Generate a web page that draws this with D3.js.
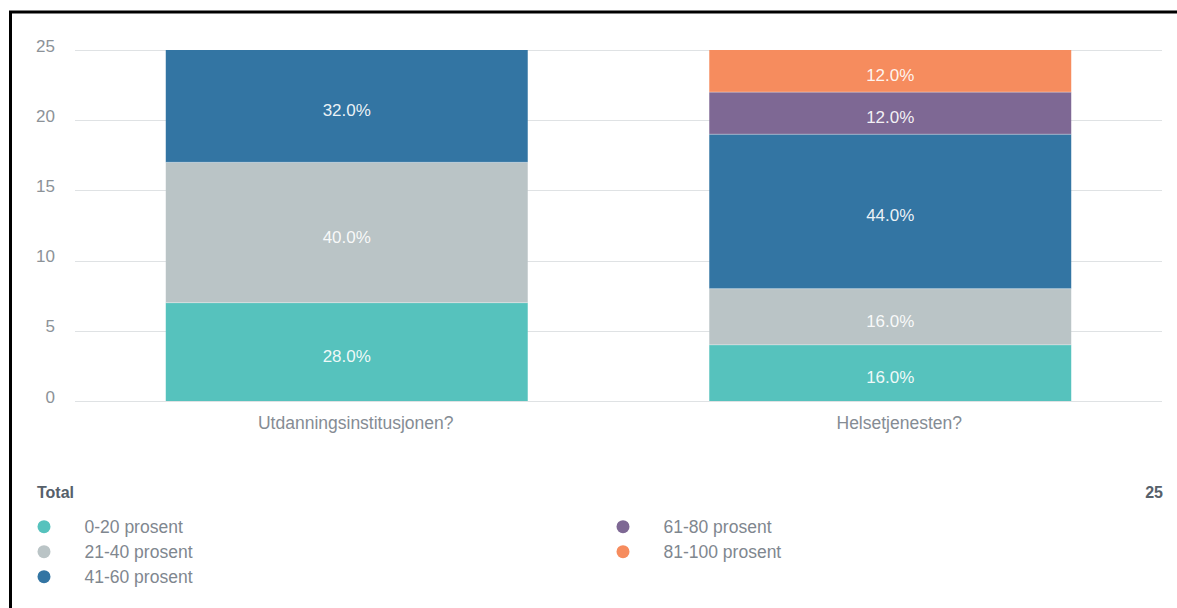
<!DOCTYPE html>
<html>
<head>
<meta charset="utf-8">
<script src="https://cdn.jsdelivr.net/npm/d3@7"></script>
<style>
  html, body { margin: 0; padding: 0; background: #fff; overflow: hidden; }
  svg { display: block; font-family: "Liberation Sans", Arial, sans-serif; }
</style>
</head>
<body>
<svg id="chart" width="1177" height="608"></svg>
<script>
// Survey answers per question, counted per answer bucket
const categories = ["Utdanningsinstitusjonen?", "Helsetjenesten?"];
const seriesNames = ["0-20 prosent", "21-40 prosent", "41-60 prosent", "61-80 prosent", "81-100 prosent"];
const seriesColors = ["#56c2bd", "#bac4c6", "#3375a3", "#7e6894", "#f68c5e"];
const counts0to20   = [7, 4];
const counts21to40  = [10, 4];
const counts41to60  = [8, 11];
const counts61to80  = [0, 3];
const counts81to100 = [0, 3];
const yTicks = [0, 5, 10, 15, 20, 25];
const totalLabel = "Total";
const totalValue = 25;

const seriesValues = [counts0to20, counts21to40, counts41to60, counts61to80, counts81to100];

const rows = categories.map((c, i) => {
  const r = { category: c };
  seriesNames.forEach((s, j) => { r[s] = seriesValues[j][i]; });
  return r;
});
const totals = categories.map((c, i) => d3.sum(seriesValues, v => v[i]));

const svg = d3.select("#chart");

// outer frame (top and left edges fall inside the view)
svg.append("path")
  .attr("d", "M10.5,608 L10.5,12 L1177,12")
  .attr("fill", "none").attr("stroke", "#000").attr("stroke-width", 3);

const x = d3.scaleBand().domain(categories).range([75, 1162])
  .paddingInner(0.334).paddingOuter(0.167);
const y = d3.scaleLinear().domain([0, 25]).range([401, 50]);

// gridlines
svg.append("g").selectAll("line").data(yTicks).join("line")
  .attr("x1", 75).attr("x2", 1162)
  .attr("y1", d => Math.round(y(d)) + 0.5).attr("y2", d => Math.round(y(d)) + 0.5)
  .attr("stroke", "#dfe2e4").attr("stroke-width", 1);

// y tick labels
svg.append("g").selectAll("text").data(yTicks).join("text")
  .attr("x", 55).attr("y", d => y(d) + 1.5)
  .attr("text-anchor", "end")
  .attr("font-size", 17).attr("fill", "#8c9298")
  .text(d => d);

// stacked bars
const stack = d3.stack().keys(seriesNames);
const layers = stack(rows);

const g = svg.append("g");
layers.forEach((layer, j) => {
  const segs = layer.map((d, i) => ({ d, i, v: d[1] - d[0] })).filter(s => s.v > 0);
  g.selectAll(null).data(segs).join("rect")
    .attr("x", s => x(categories[s.i]))
    .attr("width", x.bandwidth())
    .attr("y", s => y(s.d[1]))
    .attr("height", s => y(s.d[0]) - y(s.d[1]))
    .attr("fill", seriesColors[j]);
  g.selectAll(null).data(segs.filter(s => s.d[0] > 0)).join("line")
    .attr("x1", s => x(categories[s.i])).attr("x2", s => x(categories[s.i]) + x.bandwidth())
    .attr("y1", s => y(s.d[0])).attr("y2", s => y(s.d[0]))
    .attr("stroke", "rgba(255,255,255,0.35)").attr("stroke-width", 1);
  g.selectAll(null).data(segs).join("text")
    .attr("x", s => x(categories[s.i]) + x.bandwidth() / 2)
    .attr("y", s => y((s.d[0] + s.d[1]) / 2) + 10)
    .attr("text-anchor", "middle")
    .attr("font-size", 17).attr("fill", "#fff").attr("fill-opacity", 0.92)
    .text(s => (s.v / totals[s.i] * 100).toFixed(1) + "%");
});

// category labels
svg.append("g").selectAll("text").data(categories).join("text")
  .attr("x", d => x(d) + x.bandwidth() / 2 + 9)
  .attr("y", 429)
  .attr("text-anchor", "middle")
  .attr("font-size", 17.5).attr("fill", "#858c94")
  .text(d => d);

// legend header
svg.append("text").attr("x", 37).attr("y", 497.5)
  .attr("font-size", 16).attr("font-weight", "bold").attr("fill", "#56606a")
  .text(totalLabel);
svg.append("text").attr("x", 1163).attr("y", 497.5)
  .attr("text-anchor", "end")
  .attr("font-size", 16).attr("font-weight", "bold").attr("fill", "#56606a")
  .text(totalValue);

// legend items: two columns
const legend = svg.append("g");
const items = seriesNames.map((s, j) => ({ name: s, color: seriesColors[j], col: j < 3 ? 0 : 1, row: j < 3 ? j : j - 3 }));
const colX = [44, 623];
const item = legend.selectAll("g").data(items).join("g")
  .attr("transform", d => `translate(${colX[d.col]},${526.7 + d.row * 25})`);
item.append("circle").attr("r", 6.5).attr("fill", d => d.color);
item.append("text").attr("x", 40.5).attr("y", 6)
  .attr("font-size", 17.5).attr("fill", "#7f878f")
  .text(d => d.name);
</script>
</body>
</html>
